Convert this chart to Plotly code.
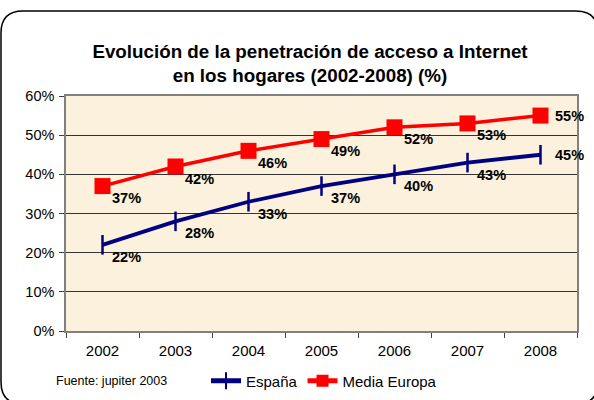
import plotly.graph_objects as go

years = ["2002", "2003", "2004", "2005", "2006", "2007", "2008"]
espana = [22, 28, 33, 37, 40, 43, 45]
europa = [37, 42, 46, 49, 52, 53, 55]
y_ticks = [0, 10, 20, 30, 40, 50, 60]
y_labels = [f"{v}%" for v in y_ticks]

W, H = 594, 400
L, R, T, B = 66, 17, 96, 69
pw, ph = W - L - R, H - T - B


def px(x):
    return (x - L) / pw


def py(y):
    return (H - B - y) / ph


FONT = "Liberation Sans, Arial"

fig = go.Figure()
fig.add_trace(go.Scatter(
    x=years, y=espana, name="España", mode="lines+markers",
    line=dict(color="#000080", width=3.8),
    marker=dict(symbol="line-ns", size=14, line=dict(color="#000080", width=2.5)),
))
fig.add_trace(go.Scatter(
    x=years, y=europa, name="Media Europa", mode="lines+markers",
    line=dict(color="#FF0000", width=3.5),
    marker=dict(symbol="square", size=16, color="#FF0000"),
))

lab_font = dict(family=FONT, size=14.5, color="#000000")
for series in (espana, europa):
    for i, v in enumerate(series):
        last = i == len(series) - 1
        fig.add_annotation(
            x=i, y=v, xref="x", yref="y", text=f"<b>{v}%</b>", showarrow=False,
            xanchor="center", yanchor="middle",
            xshift=29 if last else 24, yshift=0 if last else -12,
            font=lab_font,
        )

fig.add_annotation(
    xref="paper", yref="paper", x=px(111), y=py(381), text="Fuente: jupiter 2003",
    showarrow=False, xanchor="center", yanchor="middle",
    font=dict(family=FONT, size=12.5, color="#000000"),
)

# rounded outer frame
x0, x1, y0, y1, r = 1, 598, 11, 404, 22
path = (f"M {px(x0+r)},{py(y0)} L {px(x1-r)},{py(y0)} "
        f"Q {px(x1)},{py(y0)} {px(x1)},{py(y0+r)} "
        f"L {px(x1)},{py(y1-r)} Q {px(x1)},{py(y1)} {px(x1-r)},{py(y1)} "
        f"L {px(x0+r)},{py(y1)} Q {px(x0)},{py(y1)} {px(x0)},{py(y1-r)} "
        f"L {px(x0)},{py(y0+r)} Q {px(x0)},{py(y0)} {px(x0+r)},{py(y0)} Z")
fig.add_shape(type="path", xref="paper", yref="paper", path=path,
              line=dict(color="#000000", width=1.5), layer="below")

fig.update_layout(
    width=W, height=H,
    margin=dict(l=L, r=R, t=T, b=B, autoexpand=False),
    paper_bgcolor="#FFFFFF",
    plot_bgcolor="#FBF1DC",
    font=dict(family=FONT, size=14, color="#000000"),
    title=dict(
        text="<b>Evolución de la penetración de acceso a Internet<br>en los hogares (2002-2008) (%)</b>",
        x=310 / W, xanchor="center", y=1 - 57.5 / H, yanchor="middle",
        font=dict(family=FONT, size=18.8, color="#000000"),
    ),
    showlegend=True,
    legend=dict(
        orientation="h", x=px(206), y=py(381), xanchor="left", yanchor="middle",
        font=dict(family=FONT, size=15, color="#000000"),
        bgcolor="rgba(0,0,0,0)", itemwidth=30, tracegroupgap=0,
        itemsizing="constant",
    ),
)
fig.update_xaxes(
    type="category", tickson="boundaries", ticks="outside", ticklen=5,
    tickcolor="#404040", showline=True, linecolor="#808080", linewidth=1.5,
    mirror=True, showgrid=False, tickfont=dict(family=FONT, size=15, color="#000000"),
    range=[-0.5, 6.5], ticklabelstandoff=5,
)
fig.update_yaxes(
    range=[0, 60], tickvals=y_ticks, ticktext=y_labels, ticks="outside",
    ticklen=5, tickcolor="#404040", showline=True, linecolor="#808080",
    linewidth=1.5, mirror=True, showgrid=True, gridcolor="#333333",
    gridwidth=1, zeroline=False, tickfont=dict(family=FONT, size=14.5, color="#000000"),
    ticklabelstandoff=2,
)

fig.write_html("out.html", config={"displayModeBar": False},
               post_script="document.body.style.margin='0';")
